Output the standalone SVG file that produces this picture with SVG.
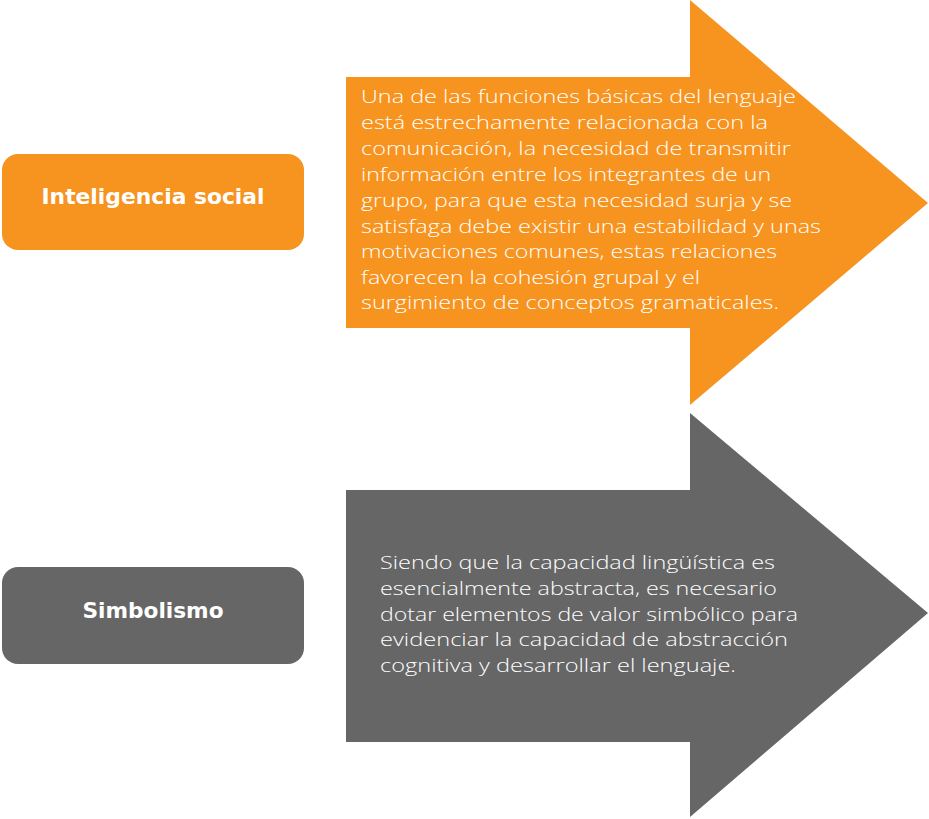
<svg xmlns="http://www.w3.org/2000/svg" width="929" height="819" viewBox="0 0 929 819">
<style>
.orange{fill:#F7941F}
.grey{fill:#666666}
.label{font-family:"DejaVu Sans","Liberation Sans",sans-serif;font-weight:bold;font-size:22px;fill:#ffffff;text-anchor:middle}
.body{font-family:"Open Sans","DejaVu Sans","Liberation Sans",sans-serif;font-weight:300;font-size:18.5px;fill:#ffffff}
</style>
<rect width="929" height="819" fill="#ffffff"/>
<g id="node-inteligencia-social">
<rect class="orange" x="2" y="154" width="302" height="96" rx="16"/>
<text class="label" x="153" y="204" textLength="223" lengthAdjust="spacingAndGlyphs">Inteligencia social</text>
</g>
<g id="node-arrow-inteligencia">
<polygon class="orange" points="346,77 690,77 690,0 928,203 690,405 690,328 346,328"/>
<text class="body" x="361" y="103" textLength="435" lengthAdjust="spacingAndGlyphs">Una de las funciones básicas del lenguaje</text>
<text class="body" x="361" y="129" textLength="407" lengthAdjust="spacingAndGlyphs">está estrechamente relacionada con la</text>
<text class="body" x="361" y="155" textLength="430" lengthAdjust="spacingAndGlyphs">comunicación, la necesidad de transmitir</text>
<text class="body" x="361" y="181" textLength="410" lengthAdjust="spacingAndGlyphs">información entre los integrantes de un</text>
<text class="body" x="361" y="207" textLength="431" lengthAdjust="spacingAndGlyphs">grupo, para que esta necesidad surja y se</text>
<text class="body" x="361" y="233" textLength="460" lengthAdjust="spacingAndGlyphs">satisfaga debe existir una estabilidad y unas</text>
<text class="body" x="361" y="258" textLength="416" lengthAdjust="spacingAndGlyphs">motivaciones comunes, estas relaciones</text>
<text class="body" x="361" y="284" textLength="339" lengthAdjust="spacingAndGlyphs">favorecen la cohesión grupal y el</text>
<text class="body" x="361" y="309" textLength="418" lengthAdjust="spacingAndGlyphs">surgimiento de conceptos gramaticales.</text>
</g>
<g id="node-simbolismo">
<rect class="grey" x="2" y="567" width="302" height="97" rx="16"/>
<text class="label" x="153" y="618" textLength="141" lengthAdjust="spacingAndGlyphs">Simbolismo</text>
</g>
<g id="node-arrow-simbolismo">
<polygon class="grey" points="346,490 690,490 690,413 928,613 690,817 690,742 346,742"/>
<text class="body" x="380" y="569" textLength="395" lengthAdjust="spacingAndGlyphs">Siendo que la capacidad lingüística es</text>
<text class="body" x="380" y="595" textLength="397" lengthAdjust="spacingAndGlyphs">esencialmente abstracta, es necesario</text>
<text class="body" x="380" y="621" textLength="418" lengthAdjust="spacingAndGlyphs">dotar elementos de valor simbólico para</text>
<text class="body" x="380" y="646" textLength="408" lengthAdjust="spacingAndGlyphs">evidenciar la capacidad de abstracción</text>
<text class="body" x="380" y="672" textLength="356" lengthAdjust="spacingAndGlyphs">cognitiva y desarrollar el lenguaje.</text>
</g>
<g id="connectors"/>
</svg>
